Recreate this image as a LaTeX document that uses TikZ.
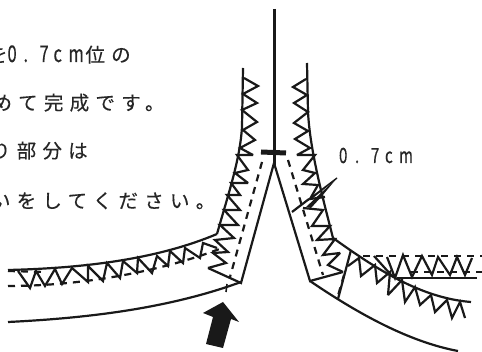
\documentclass[tikz,border=0pt]{standalone}
\usepackage{fontspec}
\setmainfont{Noto Sans CJK JP}
\newfontfamily\jp[LetterSpace=32,FakeBold=0.25]{Noto Sans CJK JP}
\newfontfamily\lat[FakeStretch=0.72,FakeBold=0.25]{Noto Sans CJK JP}
\newcommand{\cellbox}[2]{\makebox[#1pt][l]{#2}}
\tikzset{
  ink/.style={draw=black!90,line width=2.2pt,line join=miter,miter limit=3},
  thin ink/.style={draw=black!90,line width=1.6pt},
  dash ink/.style={draw=black!90,line width=2.2pt,dash pattern=on 7pt off 6pt},
  caption/.style={anchor=base west,inner sep=0pt,outer sep=0pt,text=black!85,font=\fontsize{19.5}{19.5}\selectfont}
}
\begin{document}
\begin{tikzpicture}[x=1pt,y=-1pt]
\useasboundingbox (0,0) rectangle (482,352);
\clip (0,0) rectangle (482,352);
\fill[white] (0,0) rectangle (482,352);
% texts
\node[caption] (t1) at (-12,62) {\jp を\lat\fontsize{23}{23}\selectfont\cellbox{16}{0}\cellbox{16}{.}\cellbox{14}{7}\cellbox{15}{c}\cellbox{17}{m}\fontsize{19.5}{19.5}\jp 位の};
\node[caption] (t2) at (-7.5,110) {\jp めて完成です。};
\node[caption] (t3) at (-9,158) {\jp り部分は};
\node[caption] (t4) at (-9,208) {\jp いをしてください。};
\node[caption] (t5) at (339,163) {\lat\fontsize{21}{21}\selectfont\cellbox{16}{0}\cellbox{16}{.}\cellbox{14}{7}\cellbox{14}{c}m};
% centre line and bar
\draw[ink] (274.5,9) -- (274.5,165);
\draw[draw=black!90,line width=5pt] (261,152) -- (286,153);
% panels
\draw[ink] (208,268) -- (241,283) -- (274,163) -- (310,281) -- (343,272);
\draw[ink] (292,212) -- (309,199);
\draw[ink] (351,250) -- (338,299);
% dashed seams
\draw[dash ink] (262,162) -- (230,277);
\draw[dash ink] (288,160) -- (323,275);
\draw[dash ink] (344,275) -- (337,299);
\draw[dash ink] (363,256) -- (482,256);
\draw[dash ink] (411,272) -- (482,272);
\draw[dash ink] (8,271) -- (45,272);
\draw[dash ink] (8,286) .. controls (80,286) and (160,272) .. (222,248);
% lower hem
\draw[ink] (8,322) .. controls (90,318) and (170,308) .. (241,282);
\draw[ink] (310,281) .. controls (360,315) and (410,342) .. (458,351);
\draw[thin ink] (227,284) -- (226,292);
% outer seam, left
\draw[ink] (243,68) -- (242,127) .. controls (240,160) and (228,195) .. (217,234);
\draw[ink] (217,234) .. controls (160,258) and (90,268) .. (8,270);
% outer seam, right
\draw[ink] (307,63) -- (308,112) .. controls (310,150) and (322,195) .. (333,238);
\draw[ink] (333,238) .. controls (375,268) and (420,298) .. (471,302);
\draw[ink] (397,278) -- (477,278);
% zigzag left
\draw[ink] (244,78) -- (258,86) -- (243,94) -- (257,103) -- (242,110) -- (257,122) -- (243,130) -- (255,140) -- (240,148) -- (253,155) -- (237,155) -- (248,170) -- (235,173) -- (248,183) -- (231,183) -- (240,195) -- (227,195) -- (240,210) -- (224,210) -- (238,225) -- (220,225) -- (234,238) -- (215,240) -- (228,252) -- (213,253) -- (226,263) -- (208,268);
\draw[ink] (18,271) -- (30,288) -- (36,271) -- (45,286) -- (55,269) -- (62,284) -- (72,268) -- (88,282) -- (88,266) -- (103,281) -- (107,263) -- (120,278) -- (123,261) -- (137,273) -- (138,258) -- (152,273) -- (157,256) -- (168,266) -- (170,251) -- (183,263) -- (185,248) -- (200,258) -- (203,243) -- (217,248);
% zigzag right
\draw[ink] (306,79) -- (293,87) -- (307,95) -- (294,103) -- (308,112) -- (294,123) -- (308,131) -- (295,139) -- (310,148) -- (297,155) -- (315,155) -- (303,170) -- (315,173) -- (303,184) -- (318,185) -- (310,199) -- (325,197);
\draw[ink] (303,208) -- (323,210) -- (312,226) -- (330,226) -- (317,240) -- (335,239) -- (323,255) -- (340,253) -- (328,265) -- (343,272);
\draw[ink] (348,266) -- (359,258) -- (361,276) -- (375,265) -- (377,283) -- (390,272) -- (388,295) -- (402,280) -- (405,302) -- (415,287) -- (420,305) -- (431,295) -- (435,312) -- (447,300) -- (452,318) -- (460,302) -- (465,318);
\draw[ink] (374,256) -- (392,276) (387,257) -- (395,278) -- (403,255) -- (412,277) -- (422,256) -- (432,275) -- (438,257) -- (450,275) -- (457,257) -- (465,275) -- (472,258);
% pointer wedge
\draw[draw=black!90,line width=1.4pt] (337,178) -- (308,200) (337,178) -- (312,198);
\fill[black!90] (337,178) -- (306,207) -- (311,208) -- (322,196) -- cycle;
% big arrow
\fill[black!90] (223,302) -- (239,322) -- (231,319) -- (223,348) -- (206,344) -- (213,317) -- (203,313) -- cycle;
\end{tikzpicture}
\end{document}
